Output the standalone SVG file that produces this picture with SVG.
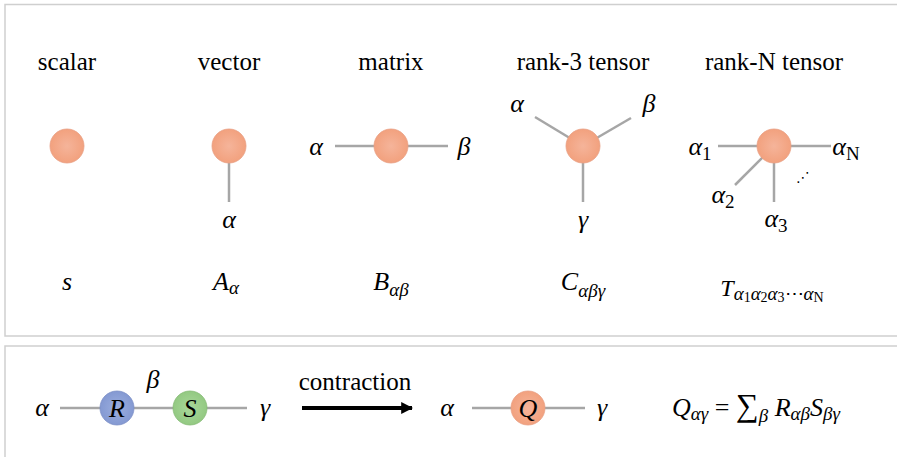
<svg xmlns="http://www.w3.org/2000/svg" width="897" height="457" viewBox="0 0 897 457">
<defs>
<radialGradient id="go" cx="0.5" cy="0.5" r="0.5"><stop offset="0" stop-color="#F5B49A"/><stop offset="1" stop-color="#F2A17E"/></radialGradient>
<radialGradient id="gb" cx="0.5" cy="0.5" r="0.5"><stop offset="0" stop-color="#9BAEDF"/><stop offset="1" stop-color="#8499D2"/></radialGradient>
<radialGradient id="gg" cx="0.5" cy="0.5" r="0.5"><stop offset="0" stop-color="#A9D89A"/><stop offset="1" stop-color="#93C982"/></radialGradient>
<marker id="ah" viewBox="0 0 10 10" refX="9" refY="5" markerWidth="3" markerHeight="3" orient="auto"><path d="M0,0 L10,5 L0,10 z" fill="#000"/></marker>
</defs>
<rect width="897" height="457" fill="#fff"/>
<rect x="5" y="4.5" width="900" height="331.5" fill="#fff" stroke="#CFCFCF" stroke-width="1.5"/>
<rect x="5" y="346" width="900" height="120" fill="#fff" stroke="#CFCFCF" stroke-width="1.5"/>

<g id="connectors" stroke="#A6A6A6" stroke-width="2.5" fill="none">
<line x1="229" y1="160" x2="229" y2="202"/>
<line x1="335" y1="146" x2="448" y2="146"/>
<line x1="535" y1="117" x2="583" y2="146"/>
<line x1="631" y1="118" x2="583" y2="146"/>
<line x1="583" y1="146" x2="583" y2="202"/>
<line x1="718" y1="146" x2="831" y2="146"/>
<line x1="774" y1="146" x2="735" y2="185"/>
<line x1="774" y1="146" x2="774" y2="202"/>
<line x1="60" y1="408" x2="247" y2="408"/>
<line x1="472" y1="408" x2="585" y2="408"/>
<line x1="302" y1="408" x2="412" y2="408" stroke="#000" stroke-width="4" marker-end="url(#ah)"/>
</g>

<g id="scalar">
<text style="font-family:'Liberation Serif','Times New Roman',serif !important" font-family="Liberation Serif" font-size="25" text-anchor="middle" x="67" y="70">scalar</text>
<circle fill="url(#go)" stroke="#E9A084" stroke-width="0.8" cx="67" cy="146" r="17"/>
<text style="font-family:'Liberation Serif','Times New Roman',serif !important" font-family="Liberation Serif" font-style="italic" font-size="26" text-anchor="middle" x="67" y="290">s</text>
</g>

<g id="vector">
<text style="font-family:'Liberation Serif','Times New Roman',serif !important" font-family="Liberation Serif" font-size="25" text-anchor="middle" x="229" y="70">vector</text>
<circle fill="url(#go)" stroke="#E9A084" stroke-width="0.8" cx="229" cy="146" r="17"/>
<text style="font-family:'Liberation Serif','Times New Roman',serif !important" font-family="Liberation Serif" font-style="italic" font-size="26" text-anchor="middle" x="229" y="228">α</text>
<text style="font-family:'Liberation Serif','Times New Roman',serif !important" font-family="Liberation Serif" font-style="italic" font-size="26" text-anchor="middle" x="226" y="290">A<tspan font-size="19" dy="4">α</tspan></text>
</g>

<g id="matrix">
<text style="font-family:'Liberation Serif','Times New Roman',serif !important" font-family="Liberation Serif" font-size="25" text-anchor="middle" x="391" y="70">matrix</text>
<circle fill="url(#go)" stroke="#E9A084" stroke-width="0.8" cx="391" cy="146" r="17"/>
<text style="font-family:'Liberation Serif','Times New Roman',serif !important" font-family="Liberation Serif" font-style="italic" font-size="26" text-anchor="middle" x="316" y="155">α</text>
<text style="font-family:'Liberation Serif','Times New Roman',serif !important" font-family="Liberation Serif" font-style="italic" font-size="26" text-anchor="middle" x="464" y="155">β</text>
<text style="font-family:'Liberation Serif','Times New Roman',serif !important" font-family="Liberation Serif" font-style="italic" font-size="26" text-anchor="middle" x="391" y="290">B<tspan font-size="19" dy="6">αβ</tspan></text>
</g>

<g id="rank3">
<text style="font-family:'Liberation Serif','Times New Roman',serif !important" font-family="Liberation Serif" font-size="25" text-anchor="middle" x="583" y="70">rank-3 tensor</text>
<circle fill="url(#go)" stroke="#E9A084" stroke-width="0.8" cx="583" cy="146" r="17"/>
<text style="font-family:'Liberation Serif','Times New Roman',serif !important" font-family="Liberation Serif" font-style="italic" font-size="26" text-anchor="middle" x="517" y="112">α</text>
<text style="font-family:'Liberation Serif','Times New Roman',serif !important" font-family="Liberation Serif" font-style="italic" font-size="26" text-anchor="middle" x="649" y="112">β</text>
<text style="font-family:'Liberation Serif','Times New Roman',serif !important" font-family="Liberation Serif" font-style="italic" font-size="26" text-anchor="middle" x="583" y="228">γ</text>
<text style="font-family:'Liberation Serif','Times New Roman',serif !important" font-family="Liberation Serif" font-style="italic" font-size="26" text-anchor="middle" x="583" y="290">C<tspan font-size="19" dy="7">αβγ</tspan></text>
</g>

<g id="rankN">
<text style="font-family:'Liberation Serif','Times New Roman',serif !important" font-family="Liberation Serif" font-size="25" text-anchor="middle" x="774" y="70">rank-N tensor</text>
<circle fill="url(#go)" stroke="#E9A084" stroke-width="0.8" cx="774" cy="146" r="17"/>
<text style="font-family:'Liberation Serif','Times New Roman',serif !important" font-family="Liberation Serif" font-style="italic" font-size="26" text-anchor="middle" x="700" y="155">α<tspan font-style="normal" font-size="19" dy="5">1</tspan></text>
<text style="font-family:'Liberation Serif','Times New Roman',serif !important" font-family="Liberation Serif" font-style="italic" font-size="26" text-anchor="middle" x="846" y="155">α<tspan font-style="normal" font-size="19" dy="5">N</tspan></text>
<text style="font-family:'Liberation Serif','Times New Roman',serif !important" font-family="Liberation Serif" font-style="italic" font-size="26" text-anchor="middle" x="723" y="203">α<tspan font-style="normal" font-size="19" dy="5">2</tspan></text>
<text style="font-family:'Liberation Serif','Times New Roman',serif !important" font-family="Liberation Serif" font-style="italic" font-size="26" text-anchor="middle" x="776" y="227">α<tspan font-style="normal" font-size="19" dy="5">3</tspan></text>
<text font-family="DejaVu Sans" font-size="14" text-anchor="middle" x="803" y="182">⋰</text>
<text style="font-family:'Liberation Serif','Times New Roman',serif !important" font-family="Liberation Serif" font-style="italic" font-size="24" text-anchor="middle" x="772" y="296">T<tspan font-size="19" dy="4">α<tspan font-style="normal" font-size="14" dy="2">1</tspan><tspan dy="-2">α</tspan><tspan font-style="normal" font-size="14" dy="2">2</tspan><tspan dy="-2">α</tspan><tspan font-style="normal" font-size="14" dy="2">3</tspan><tspan font-style="normal" dy="-2">⋯</tspan>α<tspan font-style="normal" font-size="14" dy="2">N</tspan></tspan></text>
</g>

<g id="R">
<circle cx="117" cy="408" r="17" fill="url(#gb)" stroke="#7C8FC6" stroke-width="0.8"/>
<text style="font-family:'Liberation Serif','Times New Roman',serif !important" font-family="Liberation Serif" font-style="italic" font-size="26" text-anchor="middle" x="117" y="417">R</text>
</g>
<g id="S">
<circle cx="190" cy="408" r="17" fill="url(#gg)" stroke="#86BB76" stroke-width="0.8"/>
<text style="font-family:'Liberation Serif','Times New Roman',serif !important" font-family="Liberation Serif" font-style="italic" font-size="26" text-anchor="middle" x="190" y="417">S</text>
</g>
<g id="Q">
<circle fill="url(#go)" stroke="#E9A084" stroke-width="0.8" cx="528" cy="408" r="17"/>
<text style="font-family:'Liberation Serif','Times New Roman',serif !important" font-family="Liberation Serif" font-style="italic" font-size="26" text-anchor="middle" x="528" y="417">Q</text>
</g>
<g id="labels-bottom">
<text style="font-family:'Liberation Serif','Times New Roman',serif !important" font-family="Liberation Serif" font-style="italic" font-size="26" text-anchor="middle" x="42" y="416">α</text>
<text style="font-family:'Liberation Serif','Times New Roman',serif !important" font-family="Liberation Serif" font-style="italic" font-size="26" text-anchor="middle" x="153" y="388">β</text>
<text style="font-family:'Liberation Serif','Times New Roman',serif !important" font-family="Liberation Serif" font-style="italic" font-size="26" text-anchor="middle" x="265" y="416">γ</text>
<text style="font-family:'Liberation Serif','Times New Roman',serif !important" font-family="Liberation Serif" font-size="25" text-anchor="middle" x="355" y="390">contraction</text>
<text style="font-family:'Liberation Serif','Times New Roman',serif !important" font-family="Liberation Serif" font-style="italic" font-size="26" text-anchor="middle" x="447" y="416">α</text>
<text style="font-family:'Liberation Serif','Times New Roman',serif !important" font-family="Liberation Serif" font-style="italic" font-size="26" text-anchor="middle" x="602" y="416">γ</text>
<text style="font-family:'Liberation Serif','Times New Roman',serif !important" font-family="Liberation Serif" font-style="italic" font-size="26" text-anchor="start" x="672" y="416">Q<tspan font-size="19" dy="4">αγ</tspan><tspan font-style="normal" dy="-4"> = </tspan><tspan font-style="normal" font-size="32">∑</tspan><tspan font-size="19" dy="6">β</tspan><tspan dy="-6"> R</tspan><tspan font-size="19" dy="4">αβ</tspan><tspan dy="-4">S</tspan><tspan font-size="19" dy="4">βγ</tspan></text>
</g>
</svg>
